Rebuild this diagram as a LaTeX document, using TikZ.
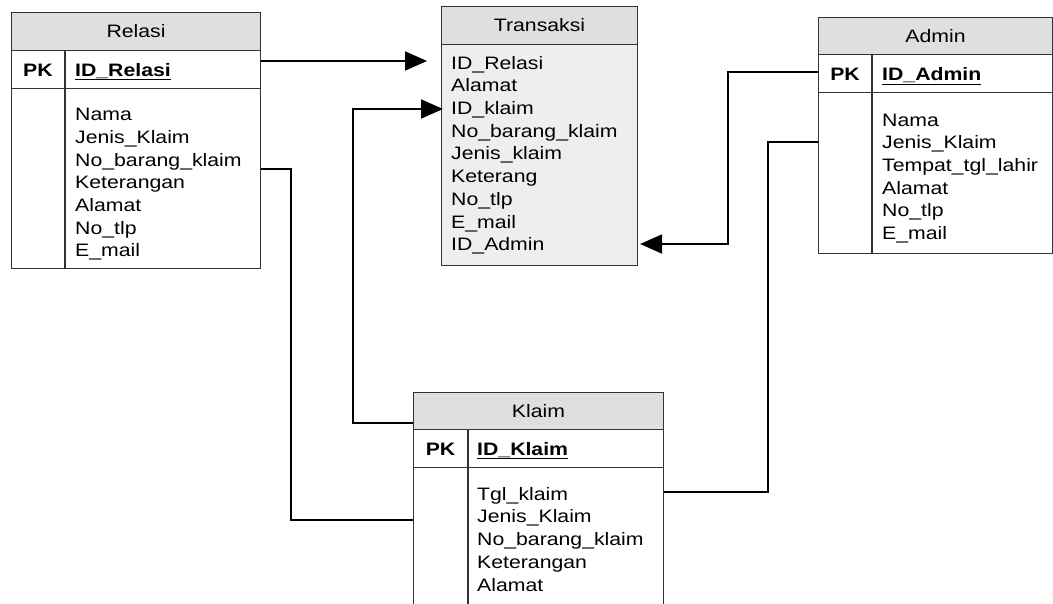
\documentclass[tikz,border=0pt]{standalone}
\usepackage{fontspec}
\setmainfont[FakeStretch=1.18]{Liberation Sans}
\usetikzlibrary{arrows.meta}
\newcommand\erfont{\fontsize{18}{22}\selectfont}
\tikzset{
  tbox/.style={draw=black!80, line width=1.1pt, rectangle, inner sep=0pt, anchor=north west},
  hdr/.style={tbox, fill=gray!25, font=\erfont},
  fld/.style={anchor=base west, inner sep=0pt, font=\erfont},
  pk/.style={anchor=base, inner sep=0pt, font=\erfont\bfseries},
  idf/.style={anchor=base west, inner sep=0pt, font=\erfont\bfseries},
  conn/.style={line width=2pt, black},
  arr/.style={-{Triangle[length=22pt,width=19pt]}},
  divl/.style={draw=black!80, line width=1.1pt}
}
\begin{document}
\begin{tikzpicture}[x=1pt,y=-1pt]
\useasboundingbox (0,0) rectangle (1053,603);
\clip (0,0) rectangle (1053,603);
\fill[white] (0,0) rectangle (1053,603);

% ---- Relasi ----
\node[hdr, minimum width=249pt, minimum height=38pt] (relH) at (11,12) {Relasi};
\node[tbox, minimum width=249pt, minimum height=38pt] (relP) at (11,50) {};
\node[tbox, minimum width=249pt, minimum height=180pt] (relB) at (11,88) {};
\draw[divl] (65,50) -- (65,268);
\node[pk] (relPK) at (38,76) {PK};
\node[idf] (relID) at (75,76) {\underline{ID\_Relasi}};
\foreach \t [count=\i from 0] in {Nama,Jenis\_Klaim,No\_barang\_klaim,Keterangan,Alamat,No\_tlp,E\_mail}
  \node[fld] (rel\i) at (75,{120.7+22.7*\i}) {\t};

% ---- Transaksi ----
\node[tbox, fill=gray!13, minimum width=196pt, minimum height=221pt] (traB) at (441,44) {};
\node[hdr, minimum width=196pt, minimum height=38pt] (traH) at (441,6) {Transaksi};
\foreach \t [count=\i from 0] in {ID\_Relasi,Alamat,ID\_klaim,No\_barang\_klaim,Jenis\_klaim,Keterang,No\_tlp,E\_mail,ID\_Admin}
  \node[fld] (tra\i) at (451,{69.1+22.7*\i}) {\t};

% ---- Admin ----
\node[hdr, minimum width=234pt, minimum height=37pt] (admH) at (818,17) {Admin};
\node[tbox, minimum width=234pt, minimum height=38pt] (admP) at (818,54) {};
\node[tbox, minimum width=234pt, minimum height=161pt] (admB) at (818,92) {};
\draw[divl] (872,54) -- (872,253);
\node[pk] (admPK) at (845,80.5) {PK};
\node[idf] (admID) at (882,80.5) {\underline{ID\_Admin}};
\foreach \t [count=\i from 0] in {Nama,Jenis\_Klaim,Tempat\_tgl\_lahir,Alamat,No\_tlp,E\_mail}
  \node[fld] (adm\i) at (882,{126+22.7*\i}) {\t};

% ---- Klaim ----
\node[hdr, minimum width=250pt, minimum height=37pt] (klmH) at (413,392) {Klaim};
\node[tbox, minimum width=250pt, minimum height=38pt] (klmP) at (413,429) {};
\node[tbox, minimum width=250pt, minimum height=160pt] (klmB) at (413,467) {};
\draw[divl] (468,429) -- (468,610);
\node[pk] (klmPK) at (440.5,455) {PK};
\node[idf] (klmID) at (477,455) {\underline{ID\_Klaim}};
\foreach \t [count=\i from 0] in {Tgl\_klaim,Jenis\_Klaim,No\_barang\_klaim,Keterangan,Alamat}
  \node[fld] (klm\i) at (477,{500+22.8*\i}) {\t};

% ---- connectors ----
\draw[conn,arr,shorten >=14pt] (relP.east |- 0,61) -- (traB.west |- 0,61);
\draw[conn,arr,shorten >=-2pt] (klmH.west |- 0,423) -- (353,423) -- (353,109) -- (traB.west |- 0,109);
\draw[conn] (relB.east |- 0,169) -- (291,169) -- (291,520) -- (klmB.west |- 0,520);
\draw[conn,arr,shorten >=2pt] (admP.west |- 0,72) -- (728,72) -- (728,244) -- (traB.east |- 0,244);
\draw[conn] (admB.west |- 0,142) -- (768,142) -- (768,492) -- (klmB.east |- 0,492);
\end{tikzpicture}
\end{document}
